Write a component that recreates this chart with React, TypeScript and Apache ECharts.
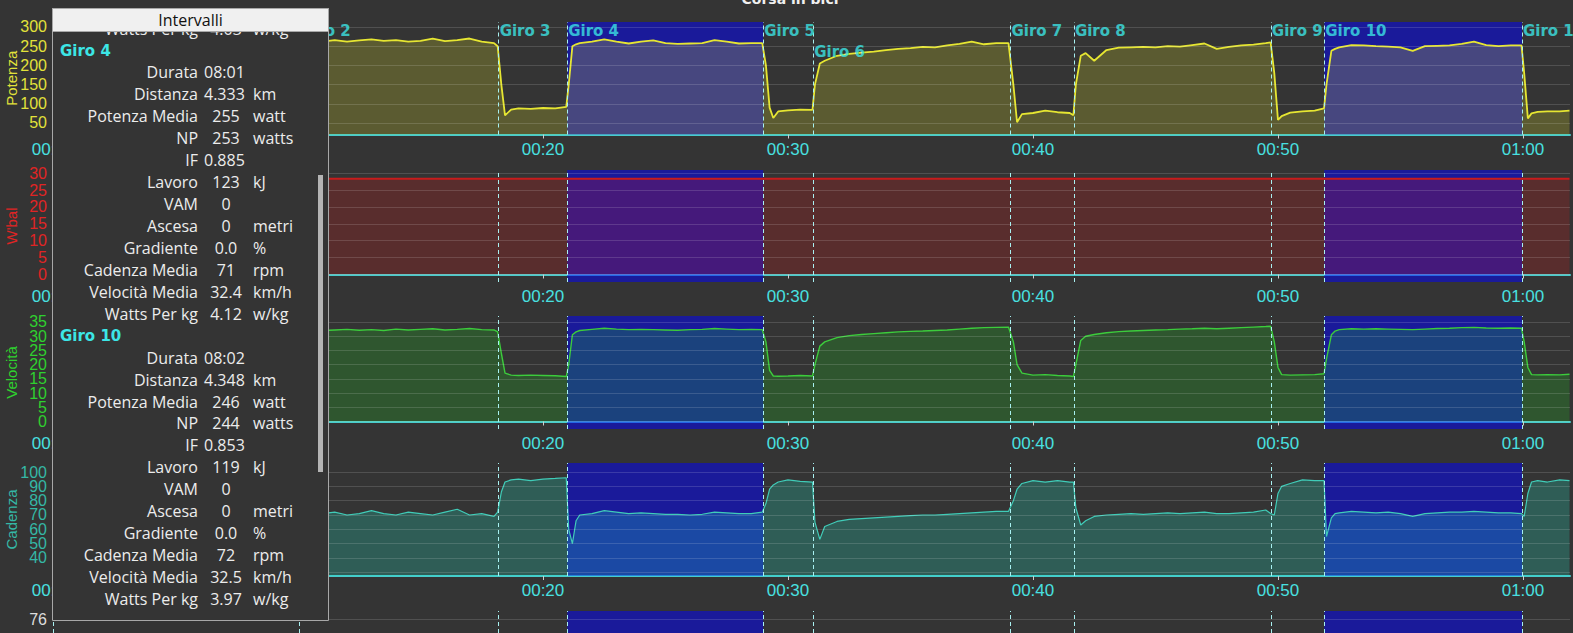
import React, { useEffect, useRef } from "react";
import * as echarts from "echarts";

// ---------- data (time in minutes) ----------
const time = [
  0, 1, 2, 3, 4, 5, 6, 7, 8, 9, 9.9,
  10.1, 10.5, 11, 11.5, 12, 12.5, 13, 13.5, 14, 14.5, 15, 15.5, 16, 16.5, 17, 17.5, 18,
  18.15, 18.3, 18.45, 18.7, 19, 19.5, 20, 20.5, 20.95,
  21.05, 21.2, 21.35, 21.5, 22, 22.5, 23, 23.5, 24, 24.5, 25, 25.5, 26, 26.5, 27, 27.5, 28, 28.5, 28.95,
  29.1, 29.25, 29.4, 29.6, 30, 30.5, 31.0,
  31.1, 31.3, 31.5, 32, 32.5, 33, 33.5, 34, 34.5, 35, 35.5, 36, 36.5, 37, 37.5, 38, 38.5, 39,
  39.2, 39.35, 39.55, 40, 40.5, 41, 41.5, 41.65,
  41.75, 41.95, 42.15, 42.5, 43, 43.5, 44, 44.5, 45, 45.5, 46, 46.5, 47, 47.5, 48, 48.5, 49, 49.5, 49.7,
  49.85, 50, 50.15, 50.5, 51, 51.5, 51.88,
  51.98, 52.18, 52.33, 52.5, 53, 53.5, 54, 54.5, 55, 55.5, 56, 56.5, 57, 57.5, 58, 58.5, 59, 59.5, 59.94,
  60.05, 60.2, 60.35, 60.6, 61, 61.5, 61.9,
];

const power = [
  95, 140, 160, 170, 175, 180, 185, 190, 188, 185, 190,
  150, 248, 262, 266, 262, 265, 268, 264, 266, 262, 264, 270, 263, 266, 270, 262, 258,
  250, 150, 70, 85, 88, 87, 89, 88, 92,
  150, 250, 255, 258, 262, 268, 262, 257, 262, 265, 258, 256, 257, 258, 266, 262, 257, 258, 258,
  200, 90, 63, 80, 83, 85, 84,
  150, 205, 212, 225, 230, 233, 236, 240, 243, 245, 248, 247, 252, 256, 262, 255, 258, 258,
  150, 52, 73, 76, 82, 78, 76, 70,
  150, 225, 232, 212, 240, 246, 247, 248, 247, 250, 249, 253, 257, 243, 248, 252, 254, 258, 260,
  180, 58, 68, 77, 80, 82, 88,
  150, 238, 243, 247, 253, 252, 250, 249, 247, 238, 250, 251, 252, 256, 262, 253, 250, 252, 252,
  180, 62, 75, 79, 80, 80, 82,
];

const speed = [
  20, 25, 27, 28, 28.5, 29, 29.5, 30, 30, 29.5, 30,
  25, 30.5, 32, 32.2, 32.4, 32.1, 32.3, 32.0, 32.5, 32.2, 32.4, 32.6, 32.2, 32.4, 32.7, 32.3, 32.2,
  31.5, 24, 17, 16.3, 16.2, 16.3, 16.2, 16.1, 15.8,
  20, 30.5, 31.5, 32.0, 32.4, 32.8, 32.5, 32.3, 32.4, 32.3, 32.2, 32.1, 32.3, 32.4, 32.7, 32.5, 32.3, 32.4, 32.3,
  28, 18, 16, 15.9, 16.0, 16.2, 16.0,
  20, 26.5, 28, 29.5, 30.2, 30.6, 30.9, 31.2, 31.5, 31.7, 31.8, 32.0, 32.2, 32.5, 32.8, 33.0, 33.1, 33.2,
  28, 20, 17, 16.3, 16.5, 16.2, 16.0, 15.8,
  20, 28.5, 30.0, 30.6, 31.2, 31.6, 31.8, 32.0, 32.2, 32.3, 32.5, 32.6, 32.8, 32.6, 32.8, 33.0, 33.2, 33.4, 33.5,
  28, 19, 16.5, 16.3, 16.4, 16.5, 16.8,
  22, 30.5, 31.8, 32.3, 32.6, 32.5, 32.6, 32.5, 32.4, 32.3, 32.5, 32.7, 32.8, 33.0, 33.1, 32.9, 32.8, 32.9, 32.8,
  28, 19, 16.5, 16.4, 16.5, 16.4, 16.6,
];

const cadence = [
  70, 80, 85, 85, 86, 85, 86, 87, 86, 85, 86,
  65, 70, 71, 72, 70, 71, 73, 71, 70, 72, 71, 70, 72, 74, 70, 71, 69,
  72, 86, 93, 94.5, 95, 94, 95, 95.5, 96,
  60, 50, 66, 70, 71, 73, 72, 71, 71.5, 71, 70.5, 70.5, 70, 70.5, 72, 71.5, 71, 71, 72,
  78, 88, 91, 93, 94.5, 93.5, 93,
  65, 53, 62, 65.5, 67, 67.5, 68, 68.5, 69, 69.5, 70, 70, 70.5, 71, 71.5, 72, 72.5, 72.5,
  80, 88, 92, 94, 93, 94, 93, 93,
  75, 63, 66, 69, 70, 70.5, 71, 70.5, 71, 71.5, 71, 71.5, 72, 71, 71, 71.5, 72, 73.5, 71,
  70, 85, 90, 92, 94.5, 94, 94,
  55, 68, 71, 71.5, 72.5, 72, 71.5, 72, 71, 69, 71, 71.5, 72, 72, 72.5, 72, 71.5, 71.5, 71,
  69, 85, 93, 94, 93, 94.5, 94,
];

const wbalTime = [0, 61.9];
const wbal = [28.3, 28.3];

const lapStarts = [0, 10.04, 18.19, 20.99, 28.99, 31.03, 39.08, 41.67, 49.71, 51.89, 59.96];
const lapNames = ["Giro 1", "Giro 2", "Giro 3", "Giro 4", "Giro 5", "Giro 6", "Giro 7", "Giro 8", "Giro 9", "Giro 10", "Giro 11"];
const lapLabelLevel = [0, 0, 0, 0, 0, 1, 0, 0, 0, 0, 0];
const selectedLaps = [[20.99, 28.99], [51.89, 59.96]];

// tick labels (split in two alternating sets where they are dense)
const powerTicks = [50, 100, 150, 200, 250, 300];
const wbalTicks = [0, 5, 10, 15, 20, 25, 30];
const speedGrid = [0, 5, 10, 15, 20, 25, 30, 35];
const speedLabelsA = [5, 15, 25, 35];
const speedLabelsB = [0, 10, 20, 30];
const cadenceGrid = [30, 40, 50, 60, 70, 80, 90, 100];
const cadenceLabelsA = [40, 60, 80, 100];
const cadenceLabelsB = [50, 70, 90];
const altTicks = [76];

const statLabels = ["Durata", "Distanza", "Potenza Media", "NP", "IF", "Lavoro", "VAM", "Ascesa", "Gradiente", "Cadenza Media", "Velocità Media", "Watts Per kg"];
const statUnits = ["", "km", "watt", "watts", "", "kJ", "", "metri", "%", "rpm", "km/h", "w/kg"];
const giro4Stats = ["08:01", "4.333", "255", "253", "0.885", "123", "0", "0", "0.0", "71", "32.4", "4.12"];
const giro10Stats = ["08:02", "4.348", "246", "244", "0.853", "119", "0", "0", "0.0", "72", "32.5", "3.97"];
const prevLapWpk = "4.03";

// ---------- helpers ----------
const pad = (n: number) => (n < 10 ? "0" + n : "" + n);
const fmtTime = (v: number) => pad(Math.floor(v / 60)) + ":" + pad(Math.round(v % 60));

const BG = "#343434";
const TICKFONT = "'Liberation Sans Narrow', 'Liberation Sans', Arial, sans-serif";
const NAMEFONT = "'Liberation Sans', Arial, sans-serif";
const PANELFONT = "'Open Sans', 'Noto Sans', sans-serif";

function buildOption() {
  const gridTops = [22, 170, 316, 463, 611];
  const gridHeights = [112.5, 112, 113, 113, 113];
  const grid = gridTops.map((t, i) => ({ left: 53, right: 3, top: t, height: gridHeights[i], containLabel: false, outerBoundsMode: "none" }));

  const xAxis = grid.map((_, i) => ({
    type: "value",
    gridIndex: i,
    min: 0,
    max: 61.92,
    interval: 10,
    axisLine: { show: true, lineStyle: { color: "#48cccc", width: 2 } },
    axisTick: { show: true, length: 4, lineStyle: { color: "#cfcfcf" } },
    axisLabel: {
      show: i < 4,
      formatter: fmtTime,
      color: "#48e0e0",
      fontFamily: TICKFONT,
      fontSize: 17,
      margin: 6,
      showMaxLabel: false,
    },
    splitLine: { show: false },
  }));

  const yDefs = [
    { name: "Potenza", color: "#e2e23a", min: 20, max: 313, labels: powerTicks, extra: null as number[] | null, grid: powerTicks },
    { name: "W'bal", color: "#e02424", min: -2.22, max: 30.92, labels: wbalTicks, extra: null, grid: wbalTicks },
    { name: "Velocità", color: "#2fd02f", min: -2.64, max: 37.1, labels: speedLabelsA, extra: speedLabelsB, grid: speedGrid },
    { name: "Cadenza", color: "#34b8a6", min: 27.44, max: 106.28, labels: cadenceLabelsA, extra: cadenceLabelsB, grid: cadenceGrid },
    { name: "", color: "#dddddd", min: 69.5, max: 76.5, labels: altTicks, extra: null, grid: altTicks },
  ];
  const labelStyle = (color: string, values: number[]) => ({
    customValues: values,
    color,
    fontFamily: TICKFONT,
    fontSize: 16,
    margin: 6,
    align: "right",
    showMinLabel: true,
    showMaxLabel: true,
    hideOverlap: false,
  });
  const yAxis: any[] = yDefs.map((d, i) => ({
    type: "value",
    gridIndex: i,
    min: d.min,
    max: d.max,
    z: 5,
    axisLine: { show: false },
    axisTick: { show: false, customValues: d.grid },
    axisLabel: labelStyle(d.color, d.labels),
    splitLine: { show: true, lineStyle: { color: "rgba(255,255,255,0.14)", width: 1 } },
    name: d.name,
    nameLocation: "middle",
    nameGap: 34,
    nameMoveOverlap: false,
    nameTextStyle: { color: d.color, fontFamily: NAMEFONT, fontSize: 15 },
  }));
  yDefs.forEach((d, i) => {
    if (!d.extra) return;
    yAxis.push({
      type: "value",
      gridIndex: i,
      position: "left",
      offset: 0,
      min: d.min,
      max: d.max,
      z: 5,
      axisLine: { show: false },
      axisTick: { show: false, customValues: d.extra },
      axisLabel: labelStyle(d.color, d.extra),
      splitLine: { show: false },
    });
  });

  const panels = [
    { data: time.map((t, i) => [t, power[i]]), line: "#e6e632", area: "rgba(220,220,40,0.33)", w: 1.8 },
    { data: wbalTime.map((t, i) => [t, wbal[i]]), line: "#c81c1c", area: "rgba(213,22,22,0.33)", w: 2 },
    { data: time.map((t, i) => [t, speed[i]]), line: "#3ccc3c", area: "rgba(31,197,31,0.33)", w: 1.4 },
    { data: time.map((t, i) => [t, cadence[i]]), line: "#40ccb8", area: "rgba(31,228,197,0.33)", w: 1.2 },
    null,
  ];

  const series: any[] = [];
  for (let i = 0; i < 5; i++) {
    series.push({
      type: "line",
      xAxisIndex: i,
      yAxisIndex: i,
      data: [],
      z: 1,
      silent: true,
      markArea: {
        silent: true,
        itemStyle: { color: "rgba(0,0,255,0.5)" },
        data: selectedLaps.map(([a, b]) => [{ xAxis: a }, { xAxis: b }]),
      },
    });
    const p = panels[i];
    if (p) {
      series.push({
        type: "line",
        xAxisIndex: i,
        yAxisIndex: i,
        data: p.data,
        z: 3,
        showSymbol: false,
        silent: true,
        lineStyle: { color: p.line, width: p.w },
        areaStyle: { color: p.area },
      });
    }
    series.push({
      type: "line",
      xAxisIndex: i,
      yAxisIndex: i,
      data: [],
      z: 4,
      silent: true,
      markLine: {
        silent: true,
        symbol: "none",
        label: { show: false },
        lineStyle: { type: [4, 3], color: "#a8f0f0", width: 1 },
        data: lapStarts.map((t) => ({ xAxis: t })),
      },
    });
  }

  // lap labels in the top panel
  series.push({
    type: "scatter",
    xAxisIndex: 0,
    yAxisIndex: 0,
    z: 6,
    silent: true,
    symbolSize: 0,
    data: lapStarts.map((t, i) => [t, lapLabelLevel[i] ? 235 : 289, lapNames[i]]),
    label: {
      show: true,
      position: "right",
      distance: 1,
      formatter: (pp: any) => pp.data[2],
      color: "#3ce6e6",
      fontFamily: "'DejaVu Sans', sans-serif",
      fontWeight: "bold",
      fontSize: 15,
    },
  });

  // ---------- Intervalli panel (graphic) ----------
  const g: any[] = [];
  const rowY = (r: number) => 50.5 + 21.94 * r;
  const txt = (text: string, x: number, y: number, align: string, extra: any = {}) => ({
    type: "text",
    x,
    y,
    z: 101,
    silent: true,
    style: {
      text,
      fill: "#ececec",
      fontFamily: PANELFONT,
      fontSize: 16,
      align,
      verticalAlign: "middle",
      ...extra,
    },
  });
  g.push({
    type: "rect",
    z: 100,
    silent: true,
    shape: { x: 52.5, y: 8.5, width: 276, height: 612 },
    style: { fill: BG, stroke: "#a8a8a8", lineWidth: 1 },
  });
  // previous lap's last row, partly hidden under the header
  g.push(txt("Watts Per kg", 198, rowY(-1), "right"));
  g.push(txt(prevLapWpk, 226, rowY(-1), "center"));
  g.push(txt("w/kg", 253, rowY(-1), "left"));
  const spanRows = [0, 1, 4];
  const addLap = (name: string, stats: string[], start: number) => {
    g.push(txt(name, 60, rowY(start), "left", { fill: "#3ce6e6", fontFamily: "'DejaVu Sans', sans-serif", fontWeight: "bold", fontSize: 15 }));
    statLabels.forEach((lab, k) => {
      const y = rowY(start + 1 + k);
      g.push(txt(lab, 198, y, "right"));
      if (spanRows.includes(k)) g.push(txt(stats[k], 204, y, "left"));
      else g.push(txt(stats[k], 226, y, "center"));
      if (statUnits[k]) g.push(txt(statUnits[k], 253, y, "left"));
    });
  };
  addLap("Giro 4", giro4Stats, 0);
  addLap("Giro 10", giro10Stats, 13);
  g.push({
    type: "rect",
    z: 102,
    silent: true,
    shape: { x: 52.5, y: 8.5, width: 276, height: 23 },
    style: { fill: "#f0f0f0", stroke: "#a8a8a8", lineWidth: 1 },
  });
  g.push({
    type: "text",
    z: 103,
    silent: true,
    x: 190.5,
    y: 20,
    style: { text: "Intervalli", fill: "#111111", fontFamily: PANELFONT, fontSize: 16, align: "center", verticalAlign: "middle" },
  });
  g.push({
    type: "rect",
    z: 102,
    silent: true,
    shape: { x: 318, y: 175, width: 5, height: 297 },
    style: { fill: "#b4b4b4" },
  });
  g.push({
    type: "text",
    z: 100,
    silent: true,
    x: 790,
    y: 6,
    style: { text: "Corsa in bici", fill: "#f0f0f0", fontFamily: "'DejaVu Sans', sans-serif", fontWeight: "bold", fontSize: 14, align: "center", verticalAlign: "bottom" },
  });

  return {
    animation: false,
    backgroundColor: BG,
    grid,
    xAxis,
    yAxis,
    series,
    graphic: g,
  };
}

export default function App() {
  const ref = useRef<HTMLDivElement>(null);
  useEffect(() => {
    if (!ref.current) return;
    const chart = echarts.init(ref.current, undefined, { renderer: "svg" });
    chart.setOption(buildOption() as any);
    return () => chart.dispose();
  }, []);
  return <div ref={ref} style={{ position: "fixed", left: 0, top: 0, width: 1573, height: 633 }} />;
}
